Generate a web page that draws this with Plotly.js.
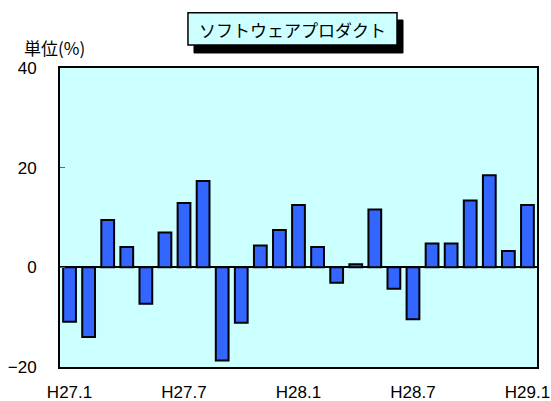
<!DOCTYPE html>
<html>
<head>
<meta charset="utf-8">
<script src="https://cdn.plot.ly/plotly-3.0.1.min.js"></script>
<style>html,body{margin:0;padding:0;background:#fff;}#chart{width:551px;height:401px;}</style>
</head>
<body>
<div id="chart"></div>
<script>
const months = [
  "H27.1","H27.2","H27.3","H27.4","H27.5","H27.6","H27.7","H27.8","H27.9","H27.10","H27.11","H27.12",
  "H28.1","H28.2","H28.3","H28.4","H28.5","H28.6","H28.7","H28.8","H28.9","H28.10","H28.11","H28.12",
  "H29.1"
];
const values = [-10.9,-14.0,9.5,4.1,-7.3,7.0,12.9,17.3,-18.7,-11.1,4.4,7.5,12.5,4.1,-3.1,0.6,11.6,-4.3,-10.4,4.8,4.8,13.4,18.5,3.3,12.5];
const xTickLabels = ["H27.1","H27.7","H28.1","H28.7","H29.1"];
const yTicks = [-20, 0, 20, 40];
const chartTitle = "ソフトウェアプロダクト";
const unitLabel = "単位(%)";

const FONT = "'Noto Sans CJK JP', 'Noto Sans', sans-serif";
const NUMFONT = "'Liberation Sans', Arial, sans-serif";

const trace = {
  type: "bar",
  x: months,
  y: values,
  marker: { color: "#3366FF", line: { color: "#000000", width: 2 } },
  hoverinfo: "x+y"
};

const layout = {
  width: 551, height: 401,
  margin: { l: 60, r: 14, t: 68, b: 34 },
  paper_bgcolor: "#ffffff",
  plot_bgcolor: "#CCFFFF",
  bargap: 0.33,
  showlegend: false,
  font: { family: FONT, size: 16, color: "#000" },
  xaxis: {
    type: "category",
    tickmode: "array",
    tickvals: xTickLabels,
    ticktext: xTickLabels,
    ticks: "",
    showgrid: false,
    showline: true, mirror: true, linecolor: "#000", linewidth: 2,
    tickfont: { family: NUMFONT, size: 17 },
    tickangle: 0,
    ticklabelstandoff: 9
  },
  yaxis: {
    range: [-20, 40],
    tickmode: "array",
    tickvals: yTicks,
    ticks: "inside", ticklen: 5, tickcolor: "#666", tickwidth: 1,
    showgrid: false,
    zeroline: true, zerolinecolor: "#000", zerolinewidth: 2,
    showline: true, mirror: true, linecolor: "#000", linewidth: 2,
    tickfont: { family: NUMFONT, size: 17 },
    ticklabelstandoff: 18
  },
  shapes: [
    { type: "rect", xref: "paper", yref: "paper", layer: "above",
      x0: 0.2809, x1: 0.7191, y0: 1.0502, y1: 1.1605,
      fillcolor: "#000", line: { color: "#000", width: 1 } },
    { type: "rect", xref: "paper", yref: "paper", layer: "above",
      x0: 0.2683, x1: 0.7065, y0: 1.0769, y1: 1.1850,
      fillcolor: "#CCFFFF", line: { color: "#000", width: 1.5 } }
  ],
  annotations: [
    {
      text: chartTitle, xref: "paper", yref: "paper", x: 0.4874, y: 1.1304,
      xanchor: "center", yanchor: "middle", showarrow: false,
      font: { family: FONT, size: 17, color: "#000" }
    },
    {
      text: unitLabel, xref: "paper", yref: "paper", x: -0.079, y: 1.0702,
      xanchor: "left", yanchor: "middle", showarrow: false,
      font: { family: FONT, size: 17, color: "#000" }
    }
  ]
};

Plotly.newPlot("chart", [trace], layout, { displayModeBar: false, staticPlot: true });
</script>
</body>
</html>
